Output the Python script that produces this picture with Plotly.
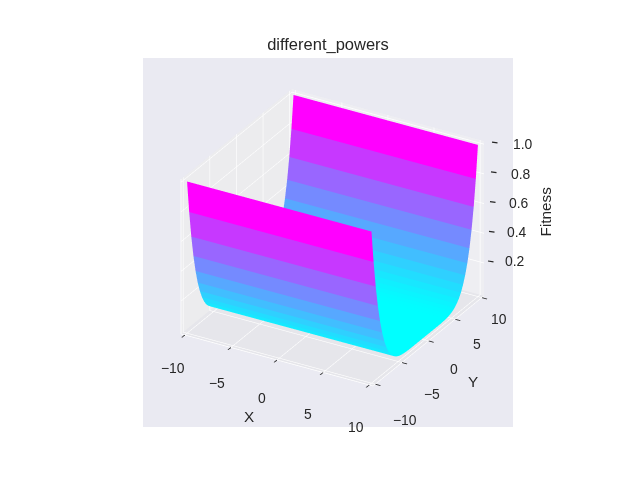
import math
import plotly.graph_objects as go

x_values = [-10.0, 10.0]
y_values = [-10.0, -9.6, -9.2, -8.8, -8.4, -8.0, -7.6, -7.2, -6.8, -6.4, -6.0, -5.6, -5.2,
            -4.8, -4.4, -4.0, -3.6, -3.2, -2.8, -2.4, -2.0, -1.6, -1.2, -0.8, -0.4, 0.0,
            0.4, 0.8, 1.2, 1.6, 2.0, 2.4, 2.8, 3.2, 3.6, 4.0, 4.4, 4.8, 5.2,
            5.6, 6.0, 6.4, 6.8, 7.2, 7.6, 8.0, 8.4, 8.8, 9.2, 9.6, 10.0]
fitness = [1.0, 0.783, 0.606, 0.464, 0.351, 0.262, 0.193, 0.14, 0.099, 0.069, 0.047, 0.031, 0.02,
           0.012, 0.007, 0.004, 0.002, 0.001, 0.0005, 0.0002, 0.0001, 0.0001, 0.0001, 0.0001, 0.0001, 0.0001,
           0.0001, 0.0001, 0.0001, 0.0001, 0.0001, 0.0002, 0.0005, 0.001, 0.002, 0.004, 0.007, 0.012, 0.02,
           0.031, 0.047, 0.069, 0.099, 0.14, 0.193, 0.262, 0.351, 0.464, 0.606, 0.783, 1.0]
x_ticks = [-10, -5, 0, 5, 10]
y_ticks = [-10, -5, 0, 5, 10]
x_tick_labels = ["−10", "−5", "0", "5", "10"]
y_tick_labels = ["−10", "−5", "0", "5", "10"]
z_ticks = [0.2, 0.4, 0.6, 0.8, 1.0]
z_tick_labels = ["0.2", "0.4", "0.6", "0.8", "1.0"]

INK = "#262626"
FONT = "Liberation Sans"
XR = [-10.417, 10.417]
ZR = [-0.0208, 1.0208]

vx, vy, vz, ti, tj, tk, cell = [], [], [], [], [], [], []
for y, z in zip(y_values, fitness):
    for x in x_values:
        vx.append(x); vy.append(y); vz.append(z)
for n in range(len(y_values) - 1):
    a, b, c, d = 2 * n, 2 * n + 1, 2 * n + 2, 2 * n + 3
    mean = (fitness[n] + fitness[n + 1]) / 2
    ti += [a, b]; tj += [b, d]; tk += [c, c]; cell += [mean, mean]

fig = go.Figure(go.Mesh3d(
    x=vx, y=vy, z=vz, i=ti, j=tj, k=tk,
    intensity=cell, intensitymode="cell",
    colorscale=[[0, "#00ffff"], [1, "#ff00ff"]], showscale=False,
    flatshading=True,
    lighting=dict(ambient=1, diffuse=0, specular=0, fresnel=0, roughness=1),
    hoverinfo="skip",
))

def axis(rng, ticks, pane, native=True):
    return dict(
        title=dict(text=""),
        range=rng, tickvals=ticks, autorange=False,
        ticks="outside" if native else "", ticklen=6, tickwidth=2, tickcolor=INK,
        showticklabels=False,
        showgrid=True, gridcolor="white", gridwidth=1.5,
        showline=True, linecolor="white", linewidth=1.5,
        zeroline=False, showspikes=False,
        showbackground=True, backgroundcolor=pane,
    )

tick_font = dict(size=13.9, color=INK, family=FONT)
title_font = dict(size=15.3, color=INK, family=FONT)
notes = []
for t, lab, dx, dy in zip(x_ticks, x_tick_labels, [-12, -14, -15, -15, -13], [-33, -36, -38, -42, -42]):
    notes.append(dict(x=t, y=XR[0], z=ZR[0], text=lab, showarrow=False, xshift=dx, yshift=dy, font=tick_font))
for t, lab, dx, dy in zip(y_ticks, y_tick_labels, [30, 30, 25, 22, 17], [-36, -31, -28, -25, -21]):
    notes.append(dict(x=XR[1], y=t, z=ZR[0], text=lab, showarrow=False, xshift=dx, yshift=dy, font=tick_font))
for t, lab, dx, dy, mx in zip(z_ticks, z_tick_labels, [31, 33, 35, 37, 39], [2, 1, 1, 0, 0], [4, 5, 6, 7, 8]):
    notes.append(dict(x=XR[1], y=XR[1], z=t, text=lab, showarrow=False, xshift=dx, yshift=dy, font=tick_font))
    notes.append(dict(x=XR[1], y=XR[1], z=t, text=" ", showarrow=True, arrowhead=0, arrowwidth=1.2,
                      arrowcolor=INK, ax=7, ay=1, standoff=0, xshift=mx, yshift=2, font=dict(size=1)))
notes.append(dict(x=0, y=XR[0], z=ZR[0], text="X", showarrow=False, xshift=-28, yshift=-57, font=title_font))
notes.append(dict(x=XR[1], y=0, z=ZR[0], text="Y", showarrow=False, xshift=44, yshift=-41, font=title_font))
notes.append(dict(x=XR[1], y=XR[1], z=0.5, text="Fitness", textangle=-90, showarrow=False, xshift=61, yshift=7,
                  font=title_font))

k = 2.68
elev = math.radians(28)
fig.update_layout(
    width=640, height=480, paper_bgcolor="white",
    margin=dict(l=0, r=0, t=0, b=0),
    shapes=[dict(type="rect", xref="paper", yref="paper", x0=143 / 640, x1=513 / 640, y0=53 / 480, y1=422 / 480,
                 fillcolor="#EAEAF2", line=dict(width=0), layer="below")],
    title=dict(text="different_powers", x=328 / 640, xanchor="center", y=1 - 44 / 480, yanchor="middle",
               font=dict(size=16.5, color=INK, family=FONT)),
    scene=dict(
        domain=dict(x=[25 / 640, 1], y=[5 / 480, 1]),
        bgcolor="rgba(0,0,0,0)",
        aspectmode="manual", aspectratio=dict(x=0.934, y=0.934, z=0.738),
        camera=dict(eye=dict(x=0.5 * math.cos(elev) * k, y=-0.866 * math.cos(elev) * k, z=math.sin(elev) * k), up=dict(x=0, y=0, z=1),
                    center=dict(x=0, y=0, z=0), projection=dict(type="orthographic")),
        xaxis=axis(XR, x_ticks, "rgb(236,236,238)"),
        yaxis=axis(XR, y_ticks, "rgb(238,238,242)"),
        zaxis=axis(ZR, z_ticks, "rgb(230,230,235)", native=False),
        annotations=notes,
    ),
)
fig.write_html("out.html", post_script="document.body.style.margin='0';", config=dict(displayModeBar=False))
